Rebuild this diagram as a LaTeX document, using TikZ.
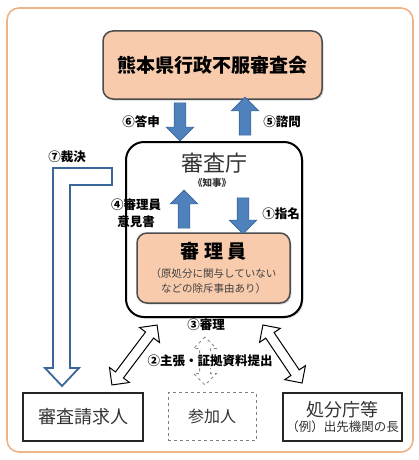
\documentclass[tikz,border=0pt]{standalone}
\usepackage{fontspec}
\setmainfont{Noto Sans CJK JP}
\usepackage{tikz}
\usetikzlibrary{shapes.arrows, shadows, positioning}

\definecolor{paleorange}{HTML}{F8CBAD}
\definecolor{frameorange}{HTML}{EDB48A}
\definecolor{arrowblue}{HTML}{4F81BD}
\definecolor{arrowedge}{HTML}{3A6699}

\tikzset{
  softshadow/.style={drop shadow={opacity=.3, shadow xshift=1.5pt, shadow yshift=-1.5pt}},
  councilbox/.style={draw=black!70, line width=1.5pt, fill=paleorange, rounded corners=10pt, softshadow},
  partybox/.style={draw=black!85, line width=1.2pt, minimum width=120pt, minimum height=48pt, text=black!80, inner sep=0pt},
  bluearrow/.style={single arrow, draw=arrowedge, fill=arrowblue, line width=.6pt, minimum height=38pt,
    inner xsep=0pt, inner ysep=5.5pt, single arrow head extend=8pt},
  twoway/.style={double arrow, draw=black, fill=white, line width=1pt,
    inner xsep=0pt, inner ysep=4.5pt, double arrow head extend=7.5pt},
  lbl/.style={font=\bfseries\fontsize{12.5}{17}\selectfont, inner sep=1pt}
}

\begin{document}
\begin{tikzpicture}[x=1pt, y=-1pt]
    \useasboundingbox (0,0) rectangle (419,460);
    % outer frame
    \draw[frameorange, line width=1.6pt, rounded corners=12pt] (7,8) rectangle (413,452);

    % council, agency and examiner
    \node[councilbox, minimum width=219pt, minimum height=68pt] (council) at (212.5,65)
      {\bfseries\fontsize{19}{22}\selectfont 熊本県行政不服審査会};
    \node[draw=black, line width=2pt, rounded corners=18pt, fill=white, softshadow,
      minimum width=176pt, minimum height=175pt] (agency) at (214,229.5) {};
    \node[text=black!80, font=\fontsize{22}{26}\selectfont] (agencyname) at (214,163) {審査庁};
    \node[font=\bfseries\fontsize{9.5}{11}\selectfont, text=black!80] (governor) at (212,183) {《知事》};
    \node[councilbox, minimum width=153pt, minimum height=70pt, align=center,
      font=\fontsize{10.5}{15}\selectfont] (examiner) at (213.5,268)
      {{\bfseries\fontsize{19}{22}\selectfont 審\hspace{5pt}理\hspace{5pt}員}\\[4pt]
       {\color{black!75}（原処分に関与していない}\\
       {\color{black!75}などの除斥事由あり）}};

    % blue arrows
    \node[bluearrow, rotate=-90] (reply) at (180,119) {};
    \node[bluearrow, rotate=90] (consult) at (245,119) {};
    \node[bluearrow, rotate=90] (opinion) at (184,212) {};
    \node[bluearrow, rotate=-90, minimum height=36pt] (appoint) at (243,213) {};

    % the parties
    \node[partybox, font=\fontsize{18}{20}\selectfont] (claimant) at (83,417) {審査請求人};
    \node[partybox, draw=black!50, dashed, line width=1pt, minimum width=88pt,
      font=\fontsize{16}{18}\selectfont] (joiner) at (212,416.5) {参加人};
    \node[partybox, minimum width=119pt, align=center] (office) at (342.5,417)
      {{\fontsize{18}{20}\selectfont 処分庁等}\\[1pt]{\fontsize{12.5}{14}\selectfont （例）出先機関の長}};

    % two-way arrows
    \node[twoway, rotate=53, minimum height=75pt] (claimlink) at (134.5,355) {};
    \node[twoway, rotate=-56, minimum height=70pt] (officelink) at (282.5,354) {};
    \node[twoway, draw=black!45, dashed, line width=.8pt, rotate=90, minimum height=48pt,
      inner ysep=5pt, double arrow head extend=6pt] (joinlink) at (205,361) {};

    % hollow arrow for the ruling
    \draw[arrowedge, line width=1.8pt, fill=white, line join=miter]
      (53,168) -- (112,168) -- (112,185) -- (70,185) -- (70,368) -- (79,368)
      -- (62,386) -- (45,368) -- (53,368) -- cycle;

    % labels
    \foreach \n/\x/\y/\t in {answer/141/122/⑥答申, inquiry/282/122/⑤諮問, ruling/67/157/⑦裁決,
      naming/281/214/①指名, hearing/206/325/③審理} {
      \node[lbl] (\n) at (\x,\y) {\t};
    }
    \node[lbl, align=center] (report) at (136,213) {④審理員\\意見書};
    \node[lbl, fill=white] (claims) at (210,361) {②主張・証拠資料提出};
\end{tikzpicture}
\end{document}
